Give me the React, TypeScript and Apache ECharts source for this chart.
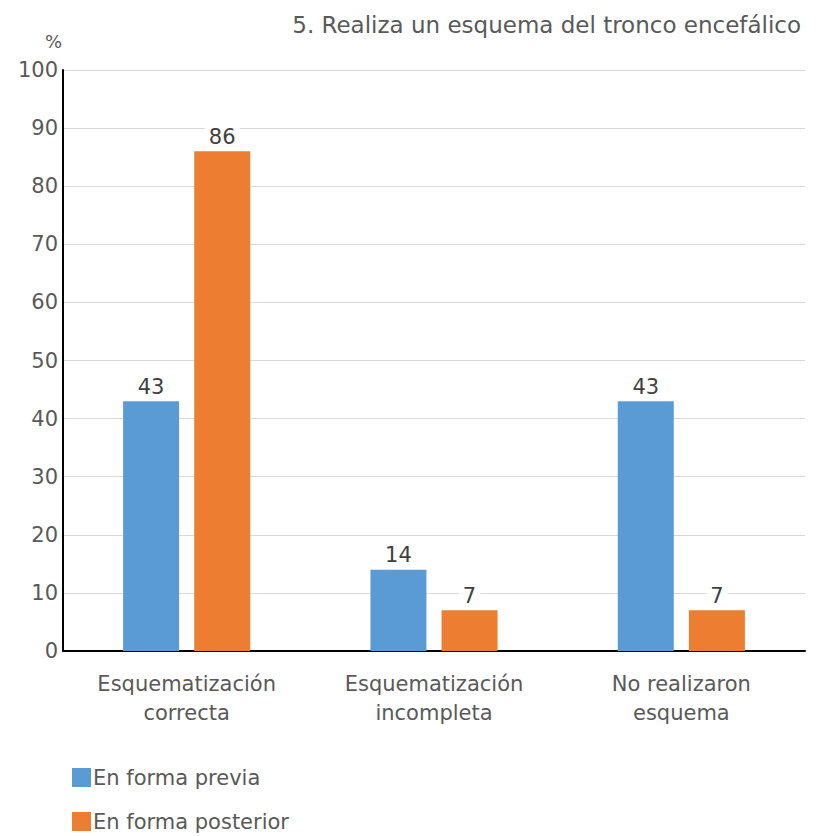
import React, { useEffect, useRef } from "react";
import * as echarts from "echarts";

const categories = ["Esquematización\ncorrecta", "Esquematización\nincompleta", "No realizaron\nesquema"];
const previa = [43, 14, 43];
const posterior = [86, 7, 7];
const seriesNames = ["En forma previa", "En forma posterior"];
const titleText = "5. Realiza un esquema del tronco encefálico";

export default function App() {
  const ref = useRef<HTMLDivElement>(null);
  useEffect(() => {
    const chart = echarts.init(ref.current!, null, { renderer: "svg" });
    const font = "DejaVu Sans, Verdana, sans-serif";
    const labelCfg = {
      show: true,
      position: "top",
      distance: 4,
      color: "#404040",
      fontSize: 21,
      fontFamily: font,
      backgroundColor: "#ffffff",
      padding: [0, 4, 0, 4],
    };
    const legendBase = {
      orient: "vertical",
      left: 72,
      padding: 0,
      itemWidth: 19,
      itemHeight: 19,
      icon: "rect",
      textStyle: { color: "#595959", fontSize: 21, fontFamily: font, padding: [0, 0, 0, -3] },
    };
    chart.setOption({
      animation: false,
      backgroundColor: "#ffffff",
      textStyle: { fontFamily: font },
      title: {
        text: titleText,
        right: 24,
        top: 8,
        textStyle: { color: "#595959", fontSize: 23, fontWeight: "normal", fontFamily: font },
      },
      graphic: [
        {
          type: "text",
          left: 45,
          top: 32,
          style: { text: "%", fill: "#595959", fontSize: 18, fontFamily: font },
        },
      ],
      legend: [
        { ...legendBase, top: 767, data: [seriesNames[0]] },
        { ...legendBase, top: 811, data: [seriesNames[1]] },
      ],
      grid: { left: 63, right: 25, top: 70, bottom: 185, containLabel: false },
      xAxis: {
        type: "category",
        data: categories,
        axisLine: { show: true, lineStyle: { color: "#000000", width: 2 } },
        axisTick: { show: false },
        axisLabel: {
          color: "#595959",
          fontSize: 21,
          fontFamily: font,
          lineHeight: 29,
          margin: 18,
          interval: 0,
        },
      },
      yAxis: {
        type: "value",
        min: 0,
        max: 100,
        interval: 10,
        axisLine: { show: true, lineStyle: { color: "#000000", width: 2 } },
        axisTick: { show: false },
        axisLabel: { color: "#595959", fontSize: 21, fontFamily: font, margin: 5 },
        splitLine: { lineStyle: { color: "#d9d9d9", width: 1 } },
      },
      series: [
        {
          name: seriesNames[0],
          type: "bar",
          data: previa,
          barWidth: 56,
          barGap: "27%",
          itemStyle: { color: "#5b9bd5" },
          label: labelCfg,
        },
        {
          name: seriesNames[1],
          type: "bar",
          data: posterior,
          barWidth: 56,
          barGap: "27%",
          itemStyle: { color: "#ed7d31" },
          label: labelCfg,
        },
      ],
    });
    return () => chart.dispose();
  }, []);
  return (
    <div
      ref={ref}
      style={{ position: "fixed", left: 0, top: 0, width: 830, height: 836 }}
    />
  );
}
